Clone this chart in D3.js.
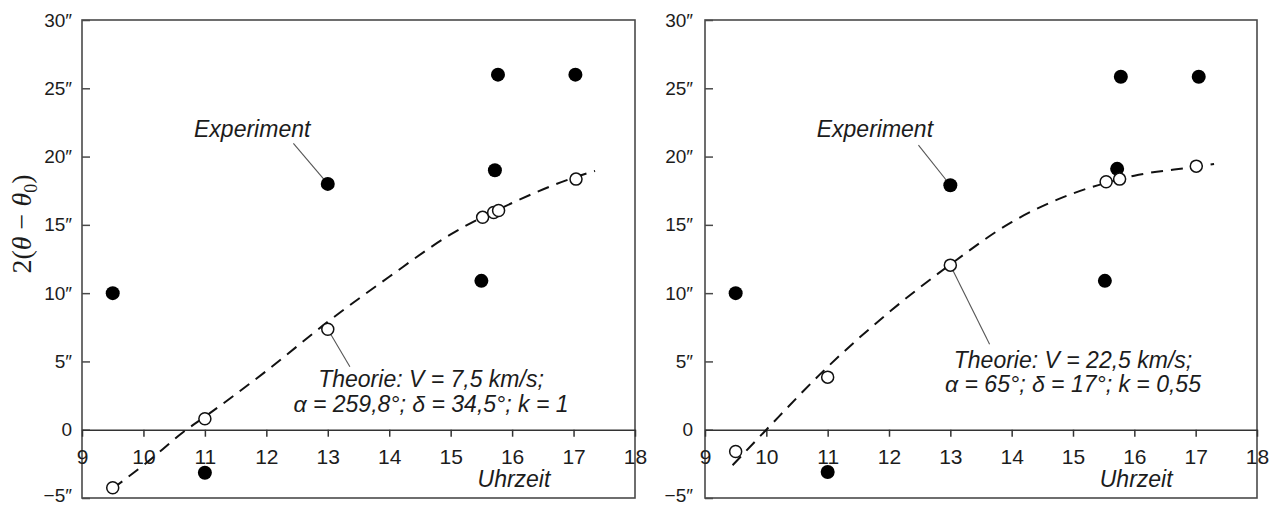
<!DOCTYPE html>
<html>
<head>
<meta charset="utf-8">
<script src="https://cdn.jsdelivr.net/npm/d3@7"></script>
<style>
  body { margin: 0; background: #fff; }
  svg { display: block; font-family: "Liberation Sans", Arial, sans-serif; }
</style>
</head>
<body>
<svg id="chart" width="1282" height="507"></svg>
<script>
// DATA
const xTicks = [9, 10, 11, 12, 13, 14, 15, 16, 17, 18]
const yTicks = [-5, 0, 5, 10, 15, 20, 25, 30]

// left panel
const expLeftX = [9.5, 11, 13, 15.5, 15.72, 15.77, 17.03]
const expLeftY = [10, -3.15, 18, 10.9, 19, 26, 26]
const theoLeftX = [9.5, 11, 13, 15.52, 15.7, 15.78, 17.04]
const theoLeftY = [-4.25, 0.8, 7.35, 15.55, 15.9, 16.05, 18.35]
const curveLeftX = [9.5, 10, 10.7, 11, 12, 13, 14, 15, 16, 17, 17.35]
const curveLeftY = [-4.3, -2.6, 0, 0.95, 4.3, 7.9, 11.2, 14.3, 16.6, 18.45, 18.95]
const noteLeft = ['Theorie: V = 7,5 km/s;', 'α = 259,8°; δ = 34,5°; k = 1']

// right panel
const expRightX = [9.5, 11, 13, 15.52, 15.72, 15.78, 17.05]
const expRightY = [10, -3.1, 17.9, 10.9, 19.1, 25.85, 25.85]
const theoRightX = [9.5, 11, 13, 15.54, 15.76, 17.01]
const theoRightY = [-1.6, 3.85, 12.05, 18.15, 18.35, 19.3]
const curveRightX = [9.45, 10, 11, 12, 13, 14, 15, 15.6, 16, 17, 17.3]
const curveRightY = [-2.6, 0, 4.6, 8.6, 12.1, 15.2, 17.3, 18.15, 18.6, 19.25, 19.45]
const noteRight = ['Theorie: V = 22,5 km/s;', 'α = 65°; δ = 17°; k = 0,55']

const expLabel = 'Experiment'
const xLabel = 'Uhrzeit'

/*
CANVAS
*/
const svg = d3.select('#chart')
const plotTop = 20
const plotBottom = 498
const ink = '#1c1c1c'

svg.append('rect').attr('width', 1282).attr('height', 507).attr('fill', '#fff')

const zip = (xs, ys) => xs.map((d, i) => [d, ys[i]])

function drawPanel(x0, x1, labelEnd, panel) {
  const x = d3.scaleLinear().domain([9, 18]).range([x0, x1])
  const y = d3.scaleLinear().domain([-5, 30]).range([plotBottom, plotTop])
  const g = svg.append('g')

  // frame
  g.append('rect')
    .attr('x', x0).attr('y', plotTop)
    .attr('width', x1 - x0).attr('height', plotBottom - plotTop)
    .attr('fill', 'none').attr('stroke', '#4a4a4a').attr('stroke-width', 1.6)

  // y axis, ticks pointing inward
  const yAxis = d3.axisLeft(y)
    .tickValues(yTicks)
    .tickSizeInner(-8).tickSizeOuter(0)
    .tickPadding(x0 - labelEnd)
    .tickFormat(d => d === 0 ? '0' : (d < 0 ? '\u2212' + Math.abs(d) : d) + '\u2033')
  const ya = g.append('g').attr('transform', `translate(${x0},0)`).call(yAxis)
  ya.select('.domain').remove()
  ya.selectAll('line').attr('stroke', '#4a4a4a').attr('stroke-width', 1.5)
  ya.selectAll('text').attr('font-size', 19).attr('fill', ink).attr('font-family', null)
    .attr('dy', d => d === -5 ? '0.2em' : '0.32em')

  // x axis along the zero line
  const xAxis = d3.axisBottom(x)
    .tickValues(xTicks)
    .tickSizeInner(7).tickSizeOuter(0)
    .tickPadding(12)
  const xa = g.append('g').attr('transform', `translate(0,${y(0)})`).call(xAxis)
  xa.select('.domain').attr('stroke', '#333').attr('stroke-width', 1.5)
  xa.selectAll('line').attr('stroke', '#333').attr('stroke-width', 1.5)
  xa.selectAll('text').attr('font-size', 21).attr('fill', ink).attr('font-family', null)

  g.append('text')
    .attr('x', x(16.03)).attr('y', y(-4.2))
    .attr('text-anchor', 'middle')
    .attr('font-size', 23).attr('font-style', 'italic').attr('fill', ink)
    .text(xLabel)

  // theory curve
  const line = d3.line()
    .x(d => x(d[0])).y(d => y(d[1]))
    .curve(d3.curveMonotoneX)
  g.append('path')
    .datum(zip(panel.curveX, panel.curveY))
    .attr('d', line)
    .attr('fill', 'none').attr('stroke', '#111')
    .attr('stroke-width', 2).attr('stroke-dasharray', '12,8')

  // leaders
  const leaders = [
    [panel.expFrom, [panel.expX[2], panel.expY[2]]],
    [[panel.theoX[2], panel.theoY[2]], panel.theoTo]
  ]
  g.selectAll('.leader').data(leaders).enter().append('line')
    .attr('x1', d => x(d[0][0])).attr('y1', d => y(d[0][1]))
    .attr('x2', d => x(d[1][0])).attr('y2', d => y(d[1][1]))
    .attr('stroke', '#555').attr('stroke-width', 1.1)

  // points
  g.selectAll('.exp').data(zip(panel.expX, panel.expY)).enter().append('circle')
    .attr('cx', d => x(d[0])).attr('cy', d => y(d[1]))
    .attr('r', 7).attr('fill', '#000')
  g.selectAll('.theo').data(zip(panel.theoX, panel.theoY)).enter().append('circle')
    .attr('cx', d => x(d[0])).attr('cy', d => y(d[1]))
    .attr('r', 6).attr('fill', '#fff').attr('stroke', '#111').attr('stroke-width', 1.5)

  // notes
  g.append('text')
    .attr('x', x(panel.expAt[0])).attr('y', y(panel.expAt[1]))
    .attr('text-anchor', 'middle')
    .attr('font-size', 23).attr('font-style', 'italic').attr('fill', ink)
    .text(expLabel)
  g.selectAll('.note').data(panel.note).enter().append('text')
    .attr('x', x(panel.noteAt[0]))
    .attr('y', (d, i) => y(panel.noteAt[1]) + i * panel.noteGap)
    .attr('text-anchor', 'middle')
    .attr('font-size', 23).attr('font-style', 'italic').attr('fill', ink)
    .text(d => d)
}

drawPanel(82, 635, 72, {
  expX: expLeftX, expY: expLeftY,
  theoX: theoLeftX, theoY: theoLeftY,
  curveX: curveLeftX, curveY: curveLeftY,
  note: noteLeft,
  expAt: [11.77, 21.43], expFrom: [12.44, 20.97],
  theoTo: [13.36, 4.61],
  noteAt: [14.68, 3.13], noteGap: 25
})

drawPanel(705, 1257, 693, {
  expX: expRightX, expY: expRightY,
  theoX: theoRightX, theoY: theoRightY,
  curveX: curveRightX, curveY: curveRightY,
  note: noteRight,
  expAt: [11.77, 21.43], expFrom: [12.48, 20.84],
  theoTo: [13.64, 6.25],
  noteAt: [15.0, 4.49], noteGap: 23.5
})

/*
Y LABEL
*/
const yl = svg.append('text')
  .attr('transform', 'translate(31,224) rotate(-90)')
  .attr('text-anchor', 'middle')
  .attr('font-family', '"Liberation Serif", "Times New Roman", serif')
  .attr('font-size', 28).attr('fill', ink)
yl.append('tspan').text('2(')
yl.append('tspan').attr('font-style', 'italic').text('θ')
yl.append('tspan').text(' − ')
yl.append('tspan').attr('font-style', 'italic').text('θ')
yl.append('tspan').attr('font-size', 18).attr('dy', 6).text('0')
yl.append('tspan').attr('dy', -6).text(')')
</script>
</body>
</html>
